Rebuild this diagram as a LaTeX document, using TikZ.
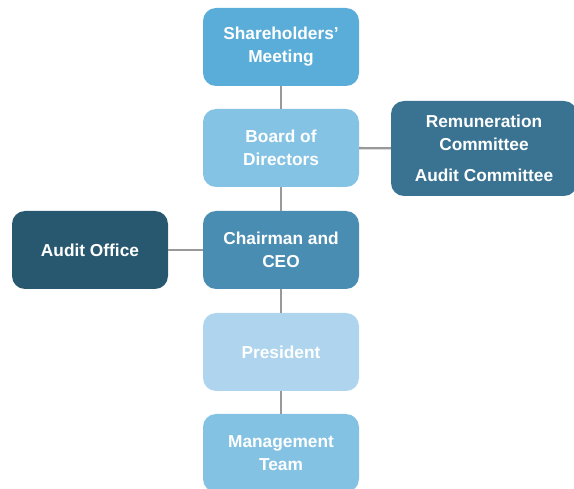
\documentclass[tikz,border=0pt]{standalone}
\usepackage{fontspec}
\setmainfont{Liberation Sans}
\begin{document}
\begin{tikzpicture}[x=1pt,y=-1pt,
  unit/.style={rectangle, rounded corners=13pt, minimum width=156pt, minimum height=78pt,
    text=white, font=\bfseries\fontsize{17.3}{23}\selectfont, align=center, inner sep=0pt},
  link/.style={draw=black!40, line width=2.4pt}]
\useasboundingbox (0,0) rectangle (574,489);
\definecolor{cShare}{HTML}{5AADD9}
\definecolor{cBoard}{HTML}{85C3E4}
\definecolor{cChair}{HTML}{4A8DB3}
\definecolor{cPres}{HTML}{AED5ED}
\definecolor{cMgmt}{HTML}{84C2E4}
\definecolor{cComm}{HTML}{3A7391}
\definecolor{cAudit}{HTML}{285870}

% vertical chain
\node[unit, fill=cShare] (share) at (281,47) {Shareholders\char"0027\\Meeting};
\node[unit, fill=cBoard] (board) at (281,148) {Board of\\Directors};
\node[unit, fill=cChair] (chair) at (281,250) {Chairman and\\CEO};
\node[unit, fill=cPres] (pres) at (281,352) {President};
\node[unit, fill=cMgmt] (mgmt) at (281,453) {Management\\Team};

% side units
\node[unit, fill=cComm, minimum width=186pt, minimum height=95pt] (comm) at (484,148.5)
  {Remuneration\\Committee\\[8pt]Audit Committee};
\node[unit, fill=cAudit] (audit) at (90,250) {Audit Office};

% connectors
\draw[link] (share) -- (board);
\draw[link] (board) -- (chair);
\draw[link] (chair) -- (pres);
\draw[link] (pres) -- (mgmt);
\draw[link] (board) -- (comm);
\draw[link] (chair) -- (audit);
\end{tikzpicture}
\end{document}
